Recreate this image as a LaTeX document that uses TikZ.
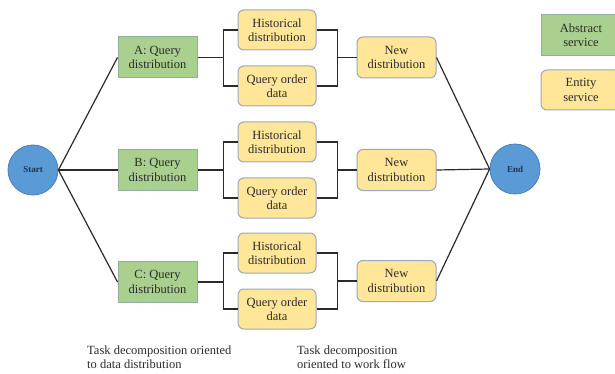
\documentclass[tikz,border=0pt]{standalone}
\usepackage{fontspec}
\setmainfont{LiberationSerif}[Extension=.ttf, UprightFont=*-Regular, BoldFont=*-Bold, ItalicFont=*-Italic, BoldItalicFont=*-BoldItalic]
\definecolor{absfill}{HTML}{A9D08E}
\definecolor{absdraw}{HTML}{8FAF9A}
\definecolor{entfill}{HTML}{FFE699}
\definecolor{entdraw}{HTML}{9AA8B8}
\definecolor{circfill}{HTML}{5B9BD5}
\definecolor{circdraw}{HTML}{4A7EBB}
\definecolor{txt}{HTML}{2A2A2A}
\definecolor{ctxt}{HTML}{1F3050}
\begin{document}
\begin{tikzpicture}[x=1pt,y=-1pt,
  absbox/.style={draw=absdraw, fill=absfill, line width=1pt, minimum width=79pt, minimum height=41pt, inner sep=1pt, align=center, text=txt, font=\fontsize{12.5}{14.5}\selectfont},
  entbox/.style={draw=entdraw, fill=entfill, line width=1pt, rounded corners=6pt, minimum width=78pt, minimum height=40pt, inner sep=1pt, align=center, text=txt, font=\fontsize{12.5}{14.5}\selectfont},
  circ/.style={circle, draw=circdraw, fill=circfill, line width=0.8pt, minimum size=50pt, inner sep=0pt, text=ctxt, font=\fontsize{9}{10}\selectfont\bfseries},
  conn/.style={draw=txt, line width=1.2pt},
  note/.style={anchor=north west, inner sep=0pt, align=left, text=txt, font=\fontsize{12.5}{14}\selectfont}]
\useasboundingbox (0,0) rectangle (615,374);

\node[circ] (start) at (33,170) {Start};
\node[circ] (end) at (515,169) {End};

\node[absbox] (A) at (157.5,57.5) {A: Query\\distribution};
\node[absbox] (B) at (157.5,170) {B: Query\\distribution};
\node[absbox] (C) at (157.5,282) {C: Query\\distribution};

\node[entbox] (HA) at (277,30) {Historical\\distribution};
\node[entbox] (QA) at (277,86) {Query order\\data};
\node[entbox] (HB) at (277,142) {Historical\\distribution};
\node[entbox] (QB) at (277,198) {Query order\\data};
\node[entbox] (HC) at (277,253) {Historical\\distribution};
\node[entbox] (QC) at (277,309) {Query order\\data};

\node[entbox, minimum width=79pt, minimum height=41pt] (NA) at (396.5,57.5) {New\\distribution};
\node[entbox, minimum width=79pt, minimum height=41pt] (NB) at (396.5,170) {New\\distribution};
\node[entbox, minimum width=79pt, minimum height=41pt] (NC) at (396.5,281) {New\\distribution};

\node[absbox, minimum width=80pt] (legA) at (581,35) {Abstract\\service};
\node[entbox, minimum width=80pt] (legE) at (581,90) {Entity\\service};

\draw[conn] (start.east) -- (A.west);
\draw[conn] (start.east) -- (B.west);
\draw[conn] (start.east) -- (C.west);

\draw[conn] (A.east) -- ++(26,0) |- (HA.west);
\draw[conn] (A.east) -- ++(26,0) |- (QA.west);
\draw[conn] (B.east) -- ++(26,0) |- (HB.west);
\draw[conn] (B.east) -- ++(26,0) |- (QB.west);
\draw[conn] (C.east) -- ++(26,0) |- (HC.west);
\draw[conn] (C.east) -- ++(26,0) |- (QC.west);

\draw[conn] (HA.east) -- ++(21,0) |- (NA.west);
\draw[conn] (QA.east) -- ++(21,0) |- (NA.west);
\draw[conn] (HB.east) -- ++(21,0) |- (NB.west);
\draw[conn] (QB.east) -- ++(21,0) |- (NB.west);
\draw[conn] (HC.east) -- ++(21,0) |- (NC.west);
\draw[conn] (QC.east) -- ++(21,0) |- (NC.west);

\draw[conn] (NA.east) -- (end.west);
\draw[conn] (NB.east) -- (end.west);
\draw[conn] (NC.east) -- (end.west);

\node[note] (n1) at (87,346) {Task decomposition oriented\\to data distribution};
\node[note] (n2) at (297,346) {Task decomposition\\oriented to work flow};
\end{tikzpicture}
\end{document}
